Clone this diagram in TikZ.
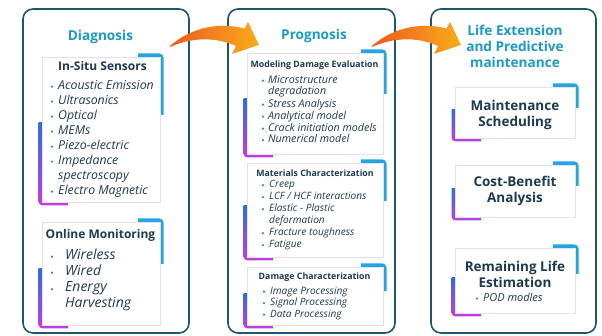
\documentclass[tikz,border=0pt]{standalone}
\usepackage{fontspec}
\setmainfont{Open Sans}
\definecolor{panelc}{HTML}{1D566F}
\definecolor{titlec}{HTML}{1B9AC4}
\definecolor{txtc}{HTML}{1E3A4F}
\definecolor{bulc}{HTML}{2B8FB5}
\definecolor{cyanacc}{HTML}{1EA7E1}
\definecolor{bluacc}{HTML}{2F6ED8}
\definecolor{magacc}{HTML}{C93CDF}
\definecolor{boxline}{HTML}{E8DDF0}
\definecolor{arrA}{HTML}{EE5A1E}
\definecolor{arrB}{HTML}{F8AC1C}
\newcommand\accbox[5]{%
 \begin{scope}
  \clip ({#4-22},{#3-7}) rectangle ({#4+7},{#3+0.4*(#5-#3)});
  \fill[cyanacc, rounded corners=4pt] ({#2+3.5},{#3-3.5}) rectangle ({#4+3.5},{#5-3.5});
 \end{scope}
 \begin{scope}
  \clip ({#2-7},{#3+0.45*(#5-#3)}) rectangle ({#2+26},{#5+7});
  \clip[rounded corners=4pt] ({#2-3.5},{#3+3.5}) rectangle ({#4-3.5},{#5+3.5});
  \shade[top color=bluacc, bottom color=magacc] ({#2-7},{#3+0.45*(#5-#3)}) rectangle ({#2+26},{#5+7});
 \end{scope}
 \node[ibox, anchor=north west, minimum width={#4-#2}, minimum height={#5-#3}] (#1) at (#2,#3) {};
}
\newcommand\bitem[6]{% style, name, bulletx, textx, y, text
 \fill[bulc] (#3,{#5+0.6}) circle (1.3pt);
 \node[#1] (#2) at (#4,{#5+0.6}) {#6};
}
\newcommand\orarrow[1]{%
 \begin{scope}[xshift=#1]
 \shade[left color=arrA, right color=arrB]
  (170,46) .. controls (188,30) and (215,21) .. (244.5,28.5)
  -- (248,22) -- (259,45) -- (232,54) -- (236,46)
  .. controls (214,36) and (190,38) .. (170,47) -- cycle;
 \end{scope}
}
\begin{document}
\begin{tikzpicture}[x=1pt,y=-1pt,
 panel/.style={draw=panelc, line width=1.6pt, rounded corners=10pt, fill=white},
 ibox/.style={draw=boxline, line width=0.6pt, fill=white, inner sep=0pt},
 ttl/.style={text=titlec, font=\bfseries\fontsize{13.6}{16}\selectfont, align=center, inner sep=0pt},
 hdrA/.style={text=txtc, font=\bfseries\fontsize{12}{14}\selectfont, inner sep=0pt, anchor=mid},
 hdrB/.style={text=txtc, font=\bfseries\fontsize{8.8}{10}\selectfont, inner sep=0pt, anchor=mid},
 itmA/.style={text=txtc, font=\itshape\fontsize{12.3}{14}\selectfont, inner sep=0pt, anchor=mid west},
 itmO/.style={text=txtc, font=\itshape\fontsize{14}{16}\selectfont, inner sep=0pt, anchor=mid west},
 itmB/.style={text=txtc, font=\itshape\fontsize{10.7}{12}\selectfont, inner sep=0pt, anchor=mid west},
 itmC/.style={text=txtc, font=\itshape\fontsize{10.1}{12}\selectfont, inner sep=0pt, anchor=mid west},
 itmP/.style={text=txtc, font=\itshape\fontsize{11}{12}\selectfont, inner sep=0pt, anchor=mid west},
 lbox/.style={text=txtc, font=\bfseries\fontsize{13.5}{16}\selectfont, align=center, inner sep=0pt},
]
\useasboundingbox (0,0) rectangle (602,336);
\fill[white] (0,0) rectangle (602,336);

% panels
\draw[panel] (23,9) rectangle (189,333);
\draw[panel] (228,9) rectangle (395,333);
\draw[panel] (431,9) rectangle (596,333);

% titles
\node[ttl] (tdiag) at (100.5,37) {Diagnosis};
\node[ttl] (tprog) at (314,36) {Prognosis};
\node[ttl, text depth=0pt] (tlife) at (515,46.5) {Life Extension\\and Predictive\\maintenance};

% Diagnosis boxes
\accbox{insitu}{42}{57}{160}{202}
\node[hdrA] (hinsitu) at (102.5,67.5) {In-Situ Sensors};
\bitem{itmA}{i1}{52}{58}{86}{Acoustic Emission}
\bitem{itmA}{i2}{52}{58}{101}{Ultrasonics}
\bitem{itmA}{i3}{52}{58}{116}{Optical}
\bitem{itmA}{i4}{52}{58}{131}{MEMs}
\bitem{itmA}{i5}{52}{58}{146}{Piezo-electric}
\bitem{itmA}{i6}{52}{58}{161}{Impedance}
\node[itmA] (i6b) at (58,176.6) {spectroscopy};
\bitem{itmA}{i7}{52}{58}{191}{Electro Magnetic}

\accbox{online}{42}{222}{160}{325}
\node[hdrA] (honline) at (100.5,235.5) {Online Monitoring};
\bitem{itmO}{o1}{52}{65}{256}{Wireless}
\bitem{itmO}{o2}{52}{65}{272}{Wired}
\bitem{itmO}{o3}{52}{65}{288.5}{Energy}
\node[itmO] (o3b) at (65,305) {Harvesting};

% Prognosis boxes
\accbox{mde}{247}{53}{383}{154}
\node[hdrB] (hmde) at (314.5,64.5) {Modeling Damage Evaluation};
\bitem{itmB}{m1}{263}{268}{80}{Microstructure}
\node[itmB] (m1b) at (268,92) {degradation};
\bitem{itmB}{m2}{263}{268}{104}{Stress Analysis}
\bitem{itmB}{m3}{263}{268}{116}{Analytical model}
\bitem{itmB}{m4}{263}{268}{128}{Crack initiation models}
\bitem{itmB}{m5}{263}{268}{139.5}{Numerical model}

\accbox{matc}{247}{163}{383}{257}
\node[hdrB] (hmatc) at (315,173.5) {Materials Characterization};
\bitem{itmC}{c1}{263}{269}{184.5}{Creep}
\bitem{itmC}{c2}{263}{269}{196.5}{LCF / HCF interactions}
\bitem{itmC}{c3}{263}{269}{208.5}{Elastic - Plastic}
\node[itmC] (c3b) at (269,221) {deformation};
\bitem{itmC}{c4}{263}{269}{232.5}{Fracture toughness}
\bitem{itmC}{c5}{263}{269}{244.5}{Fatigue}

\accbox{damc}{247}{267}{383}{325}
\node[hdrB] (hdamc) at (314.5,276.5) {Damage Characterization};
\bitem{itmC}{d1}{264}{270}{291}{Image Processing}
\bitem{itmC}{d2}{264}{270}{302.5}{Signal Processing}
\bitem{itmC}{d3}{264}{270}{314}{Data Processing}

% Life boxes
\accbox{maint}{455}{87}{575}{138}
\node[lbox] (tmaint) at (515,114.5) {Maintenance\\Scheduling};
\accbox{cost}{455}{165}{575}{217}
\node[lbox] (tcost) at (515,191) {Cost-Benefit\\Analysis};
\accbox{rem}{455}{248}{575}{313}
\node[lbox] (trem) at (515,274) {Remaining Life\\Estimation};
\bitem{itmP}{p1}{477}{483}{298}{POD modles}

% arrows
\orarrow{0}
\orarrow{202}
\end{tikzpicture}
\end{document}
